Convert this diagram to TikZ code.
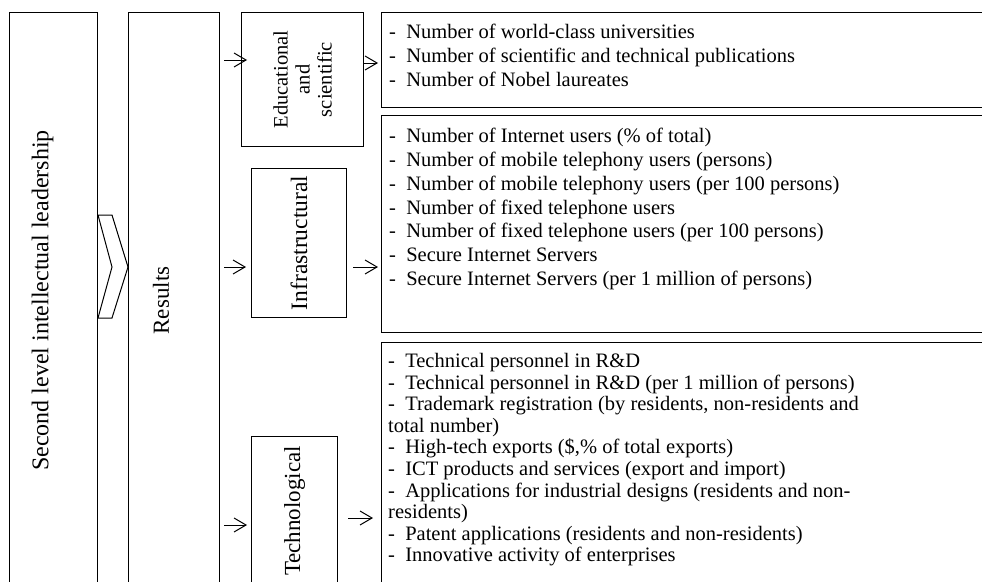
\documentclass[tikz,border=0pt]{standalone}
\usepackage{fontspec}
\setmainfont{Liberation Serif}
\usetikzlibrary{arrows.meta,positioning}
\tikzset{
  box/.style = {draw, line width=1pt, inner sep=0pt, anchor=north west},
  vlbl/.style = {rotate=90, align=center, inner sep=0pt},
  lst/.style = {align=left, inner sep=0pt, font=\fontsize{20.5}{23.8}\selectfont},
  arrow/.style = {line width=1pt, -{Straight Barb[length=12pt,width=14pt]}}
}
\newcommand{\dsh}{-~~}

\begin{document}
\begin{tikzpicture}[x=1pt,y=-1pt]
            \useasboundingbox (0,0) rectangle (982,581);
            \clip (0,0) rectangle (982,581);
            \node[box, minimum width=88pt, minimum height=576pt] (lead) at (9,12) {};
            \node[vlbl, font=\fontsize{24}{28}\selectfont] (leadlbl) at ([xshift=-11pt]lead.center) {Second level intellectual leadership};
            \node[box, minimum width=91pt, minimum height=576pt] (res) at (128,12) {};
            \node[vlbl, font=\fontsize{23}{27}\selectfont] (reslbl) at ([xshift=-13pt]res.center) {Results};
            \draw[line width=1pt] (lead.east |- 0,215) -- (112,215) -- (res.west |- 0,267) -- (112,318) -- (lead.east |- 0,318) -- (112,267) -- cycle;
            \node[box, minimum width=122pt, minimum height=134pt] (edu) at (241,12) {};
            \node[vlbl, font=\fontsize{20.5}{22}\selectfont] (edulbl) at (edu.center) {Educational\\and\\scientific};
            \node[box, minimum width=95pt, minimum height=149pt] (infra) at (251,168) {};
            \node[vlbl, font=\fontsize{23.5}{27}\selectfont] (infralbl) at (infra.center) {Infrastructural};
            \node[box, minimum width=86pt, minimum height=149pt] (tech) at (251,436) {};
            \node[vlbl, font=\fontsize{23}{27}\selectfont] (techlbl) at (tech.center) {Technological};
            \node[box, minimum width=620pt, minimum height=95pt] (eduind) at (381,12) {};
            \node[box, minimum width=620pt, minimum height=217pt] (infraind) at (381,115) {};
            \node[box, minimum width=620pt, minimum height=260pt] (techind) at (381,342) {};
            \node[lst, below right=12pt and 8pt of eduind.north west] (edulst) {\dsh Number of world-class universities\\
              \dsh Number of scientific and technical publications\\
              \dsh Number of Nobel laureates};
            \node[lst, below right=13pt and 8pt of infraind.north west] (infralst) {\dsh Number of Internet users (\% of total)\\
              \dsh Number of mobile telephony users (persons)\\
              \dsh Number of mobile telephony users (per 100 persons)\\
              \dsh Number of fixed telephone users\\
              \dsh Number of fixed telephone users (per 100 persons)\\
              \dsh Secure Internet Servers\\
              \dsh Secure Internet Servers (per 1 million of persons)};
            \node[lst, font=\fontsize{20.5}{21.6}\selectfont, below right=11pt and 7pt of techind.north west] (techlst) {\dsh Technical personnel in R\&D\\
              \dsh Technical personnel in R\&D (per 1 million of persons)\\
              \dsh Trademark registration (by residents, non-residents and\\
              total number)\\
              \dsh High-tech exports (\$,\% of total exports)\\
              \dsh ICT products and services (export and import)\\
              \dsh Applications for industrial designs (residents and non-\\
              residents)\\
              \dsh Patent applications (residents and non-residents)\\
              \dsh Innovative activity of enterprises};
            \draw[arrow, shorten <=4pt, shorten >=-6pt] (res.east |- 0,60) -- (edu.west |- 0,60);
            \draw[arrow, shorten <=-1pt, shorten >=3pt] (edu.east |- 0,63) -- (eduind.west |- 0,63);
            \draw[arrow, shorten <=4pt, shorten >=5pt] (res.east |- 0,267) -- (infra.west |- 0,267);
            \draw[arrow, shorten <=6pt, shorten >=3pt] (infra.east |- 0,267) -- (infraind.west |- 0,267);
            \draw[arrow, shorten <=4pt, shorten >=4pt] (res.east |- 0,525) -- (tech.west |- 0,525);
            \draw[arrow, shorten <=10pt, shorten >=8pt] (tech.east |- 0,518) -- (techind.west |- 0,518);
        \end{tikzpicture}
\end{document}
